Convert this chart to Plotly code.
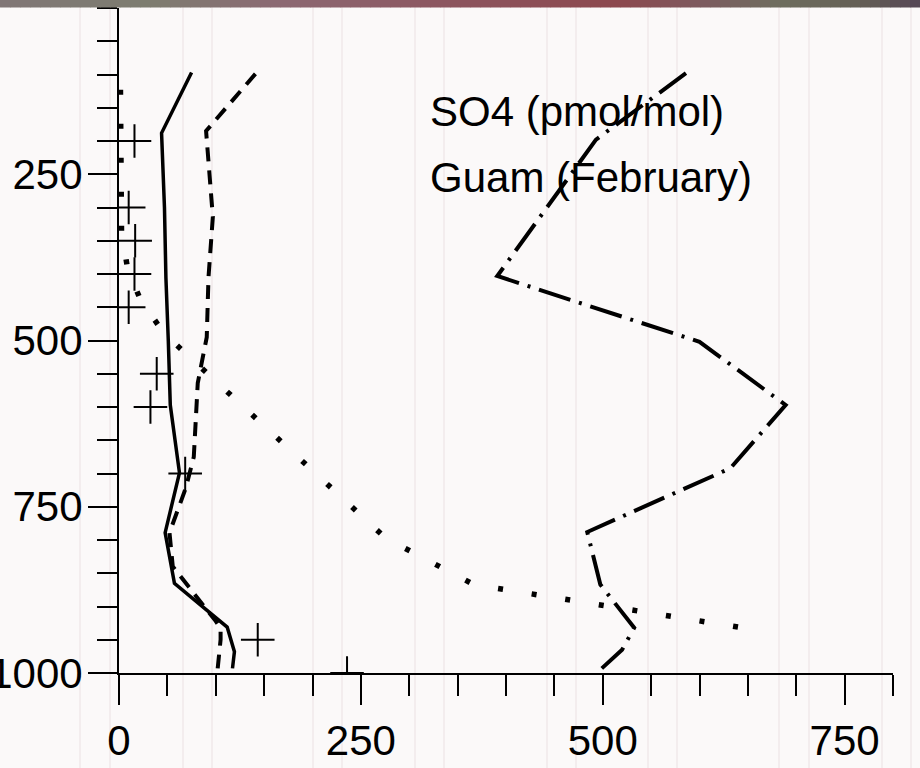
import plotly.graph_objects as go

# ---------------- data ----------------
# solid profile
solid_x = [75, 44, 47, 48.5, 51, 53, 62.5, 47.7, 57.3, 111.8, 119.3, 117.3]
solid_p = [97, 188, 300, 406, 502, 597, 699, 789, 865, 931, 968, 993]

# dashed profile
dashed_x = [141, 90, 97, 92.5, 90.7, 81.4, 77.3, 69, 52.2, 55.6, 100, 105, 105, 102]
dashed_p = [99, 185, 314, 405, 495, 564, 675, 722, 789, 840, 922, 933, 950, 993]

# dash-dot profile
dashdot_x = [586, 493, 391, 600, 689, 632, 484, 497.5, 532.5, 520, 499]
dashdot_p = [98, 198, 403, 502, 597, 692, 788, 867, 932, 965, 993]

# dotted profile
dotted_x = [1.5, 2.6, 8.8, 22.2, 47, 275.5, 366.7, 640]
dotted_p = [123, 337, 391, 439, 490, 797, 867, 931]

# observations (+)
obs_x = [16, 10, 16.7, 16, 10, 39, 32.5, 68.4, 143.4, 235.7]
obs_p = [200, 300, 350, 400, 450, 550, 600, 700, 950, 1000]

x_tickvals = [0, 250, 500, 750]
x_ticktext = ["0", "250", "500", "750"]
y_tickvals = [250, 500, 750, 1000]
y_ticktext = ["250", "500", "750", "1000"]

title_lines = ["SO4 (pmol/mol)", "Guam (February)"]

FONT = "Liberation Sans, Arial, sans-serif"

fig = go.Figure()
fig.add_trace(go.Scatter(x=solid_x, y=solid_p, mode="lines",
                         line=dict(color="black", width=3.5)))
fig.add_trace(go.Scatter(x=dashed_x, y=dashed_p, mode="lines",
                         line=dict(color="black", width=4, dash="14px,9px")))
fig.add_trace(go.Scatter(x=dashdot_x, y=dashdot_p, mode="lines",
                         line=dict(color="black", width=4, dash="33px,9px,3px,9px")))
fig.add_trace(go.Scatter(x=dotted_x, y=dotted_p, mode="lines",
                         line=dict(color="black", width=5.5, dash="5px,29px")))
fig.add_trace(go.Scatter(x=obs_x, y=obs_p, mode="markers",
                         marker=dict(symbol="cross-thin", size=24,
                                     line=dict(color="black", width=2))))

W, H = 920, 768
L, R, T, B = 119, 27, 8, 95
pw, ph = W - L - R, H - T - B

def px2paper_x(px):
    return (px - L) / pw

def py2paper_y(py):
    return 1 - (py - T) / ph

shapes = []
# faint vertical background lines
for px in [80, 110, 183, 212, 313, 342, 415, 444, 547, 576, 648, 677, 779, 809, 882, 911]:
    shapes.append(dict(type="line", xref="paper", yref="paper",
                       x0=px2paper_x(px), x1=px2paper_x(px),
                       y0=py2paper_y(H), y1=py2paper_y(0),
                       line=dict(color="rgba(205,180,185,0.35)", width=1),
                       layer="below"))
# top colour band
stops = [(0, (128, 118, 118)), (150, (125, 125, 112)), (280, (140, 105, 115)),
         (450, (140, 85, 95)), (620, (140, 72, 78)), (700, (125, 90, 95)),
         (780, (110, 110, 95)), (860, (100, 95, 85)), (920, (85, 70, 85))]

def col_at(px):
    for (a, ca), (b, cb) in zip(stops[:-1], stops[1:]):
        if a <= px <= b:
            t = (px - a) / (b - a)
            return "rgb(%d,%d,%d)" % tuple(round(ca[i] + t * (cb[i] - ca[i])) for i in range(3))
    return "rgb(85,70,85)"

step = 10
for px in range(0, W, step):
    shapes.append(dict(type="rect", xref="paper", yref="paper",
                       x0=px2paper_x(px), x1=px2paper_x(px + step + 0.5),
                       y0=py2paper_y(7.5), y1=py2paper_y(0),
                       fillcolor=col_at(px + step / 2), line=dict(width=0),
                       layer="above"))

annotations = []
for txt, cy in zip(title_lines, [111.5, 177]):
    annotations.append(dict(text=txt, xref="paper", yref="paper",
                            x=px2paper_x(428), y=py2paper_y(cy),
                            xanchor="left", yanchor="middle", showarrow=False,
                            font=dict(family=FONT, size=42, color="black")))

fig.update_layout(
    width=W, height=H,
    margin=dict(l=L, r=R, t=T, b=B, pad=0),
    paper_bgcolor="#fbf9f9",
    plot_bgcolor="rgba(0,0,0,0)",
    showlegend=False,
    shapes=shapes,
    annotations=annotations,
    font=dict(family=FONT, size=42, color="black"),
    xaxis=dict(range=[0, 800], showgrid=False, zeroline=False,
               showline=True, linecolor="black", linewidth=2,
               ticks="outside", ticklen=30, tickwidth=2, tickcolor="black",
               tickmode="array", tickvals=x_tickvals, ticktext=x_ticktext,
               tickfont=dict(family=FONT, size=42, color="black"),
               minor=dict(tickmode="linear", tick0=0, dtick=50, ticks="outside",
                          ticklen=21, tickwidth=2, tickcolor="black", showgrid=False),
               automargin=False, fixedrange=True),
    yaxis=dict(range=[1000, 0], showgrid=False, zeroline=False,
               showline=True, linecolor="black", linewidth=2,
               ticks="outside", ticklen=29, tickwidth=2, tickcolor="black",
               ticklabelstandoff=-3,
               tickmode="array", tickvals=y_tickvals, ticktext=y_ticktext,
               tickfont=dict(family=FONT, size=42, color="black"),
               minor=dict(tickmode="linear", tick0=0, dtick=50, ticks="outside",
                          ticklen=20, tickwidth=2, tickcolor="black", showgrid=False),
               automargin=False, fixedrange=True),
)

fig.write_html("out.html", config={"displayModeBar": False},
               post_script="document.body.style.margin='0';document.body.style.overflow='hidden';")
